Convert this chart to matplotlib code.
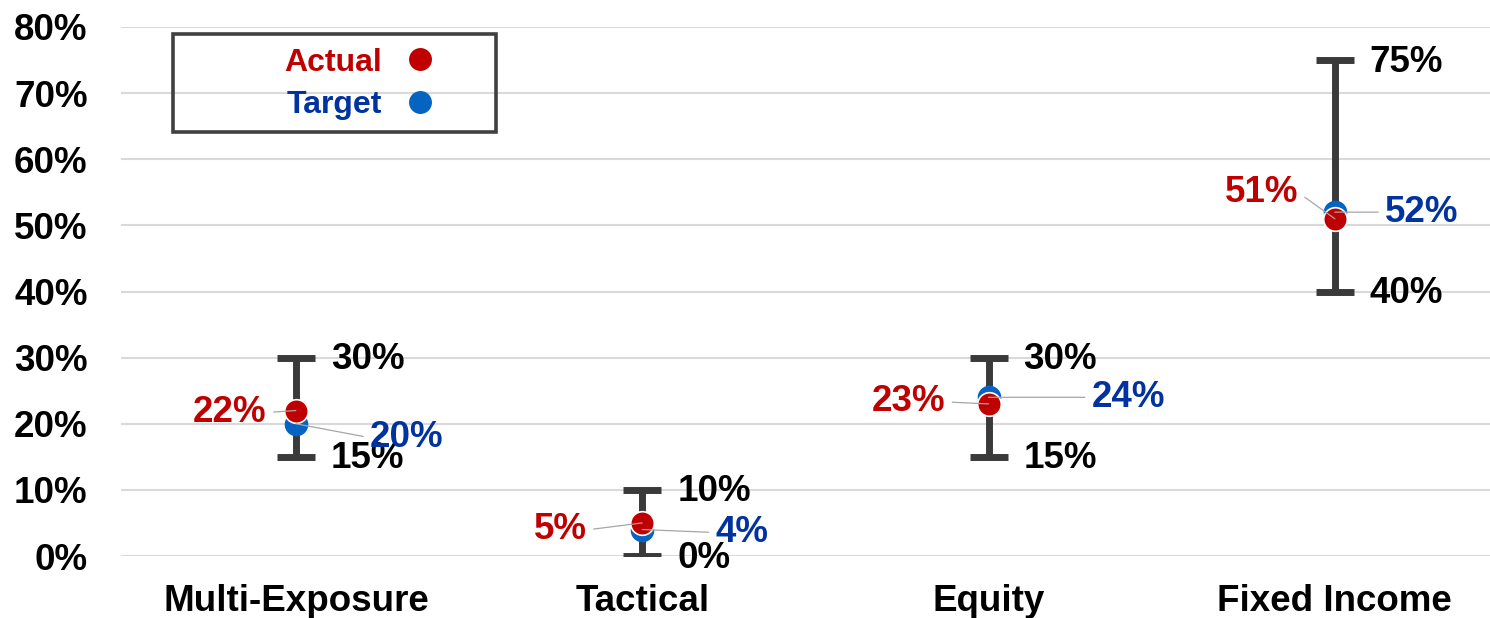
import matplotlib
matplotlib.use("Agg")
import matplotlib.pyplot as plt
from matplotlib.patches import Rectangle
from matplotlib.lines import Line2D

plt.rcParams['font.family'] = ['Liberation Sans', 'DejaVu Sans']
plt.rcParams['font.weight'] = 'bold'

categories = ["Multi-Exposure", "Tactical", "Equity", "Fixed Income"]
range_min = [15, 0, 15, 40]
range_max = [30, 10, 30, 75]
actual = [22, 5, 23, 51]
target = [20, 4, 24, 52]
y_ticks = [0, 10, 20, 30, 40, 50, 60, 70, 80]

# label offsets (pixels) for the actual / target value labels
actual_offsets = [(-66, -2), (-82, -7), (-80, 2), (-73, 26)]
target_offsets = [(111, -14), (100, -3), (140, 0), (87, 0)]

RED = "#C00000"
BLUE_MARK = "#0563C1"
BLUE_TEXT = "#0033A0"
BAR = "#3A3A3A"
GRID = "#D9D9D9"
LEADER = "#A6A6A6"
FS = 26.5

fig = plt.figure(figsize=(14.9, 6.18), dpi=100)
ax = fig.add_axes([121 / 1490, 1 - 556 / 618, (1490 - 121) / 1490, (556 - 27) / 618])

x = list(range(len(categories)))
mid = [(lo + hi) / 2 for lo, hi in zip(range_min, range_max)]
half = [(hi - lo) / 2 for lo, hi in zip(range_min, range_max)]

ax.errorbar(x, mid, yerr=half, fmt='none', ecolor=BAR, elinewidth=5,
            capsize=13.7, capthick=5, zorder=3)

ax.scatter(x, target, s=17 ** 2, color=BLUE_MARK, zorder=4, linewidths=0)
ax.scatter(x, actual, s=17 ** 2, color=RED, zorder=5, edgecolors='white', linewidths=1.2)

for i in x:
    # range ends
    ax.annotate(f"{range_max[i]}%", (i, range_max[i]), xytext=(35, -2),
                textcoords='offset pixels', ha='left', va='center',
                fontsize=FS, fontweight='bold', color='black', zorder=6)
    ax.annotate(f"{range_min[i]}%", (i, range_min[i]), xytext=(35, -2),
                textcoords='offset pixels', ha='left', va='center',
                fontsize=FS, fontweight='bold', color='black', zorder=6)
    # actual / target values with leader lines
    ax.annotate(f"{actual[i]}%", (i, actual[i]), xytext=actual_offsets[i],
                textcoords='offset pixels', ha='center', va='center',
                fontsize=FS, fontweight='bold', color=RED, zorder=7,
                arrowprops=dict(arrowstyle='-', color=LEADER, lw=0.9,
                                shrinkA=3, shrinkB=0, relpos=(1, 0.5)))
    ax.annotate(f"{target[i]}%", (i, target[i]), xytext=target_offsets[i],
                textcoords='offset pixels', ha='center', va='center',
                fontsize=FS, fontweight='bold', color=BLUE_TEXT, zorder=7,
                arrowprops=dict(arrowstyle='-', color=LEADER, lw=0.9,
                                shrinkA=3, shrinkB=0, relpos=(0, 0.5)))

ax.set_xlim(-0.505, 3.448)
ax.set_ylim(0, 80)
ax.set_yticks(y_ticks)
ax.set_yticklabels([f"{v}%" for v in y_ticks])
ax.set_xticks(x)
ax.set_xticklabels(categories)
ax.tick_params(axis='both', length=0, labelsize=FS, labelcolor='black')
ax.tick_params(axis='y', pad=24)
ax.tick_params(axis='x', pad=20)
for lab in ax.get_xticklabels() + ax.get_yticklabels():
    lab.set_fontweight('bold')
ax.grid(axis='y', color=GRID, lw=1.5, zorder=0)
ax.set_axisbelow(True)
for s in ax.spines.values():
    s.set_visible(False)

# legend with a square dark frame
handles = [
    Line2D([], [], ls='none', marker='o', markersize=16.5, color=RED, markeredgewidth=0),
    Line2D([], [], ls='none', marker='o', markersize=16.5, color=BLUE_MARK, markeredgewidth=0),
]
leg = fig.legend(handles, ["Actual", "Target"], loc='center',
                 bbox_to_anchor=(360 / 1490, 1 - 84 / 618), frameon=False,
                 markerfirst=False, prop={'size': 23, 'weight': 'bold'},
                 handletextpad=0.7, labelspacing=0.4, handlelength=1.0)
leg.get_texts()[0].set_color(RED)
leg.get_texts()[1].set_color(BLUE_TEXT)
fig.patches.append(Rectangle((173 / 1490, 1 - 132 / 618), (496 - 173) / 1490, (132 - 34) / 618,
                             transform=fig.transFigure, fill=False, edgecolor='#404040',
                             linewidth=2.6, zorder=10))

fig.savefig("out.png", dpi=100)
